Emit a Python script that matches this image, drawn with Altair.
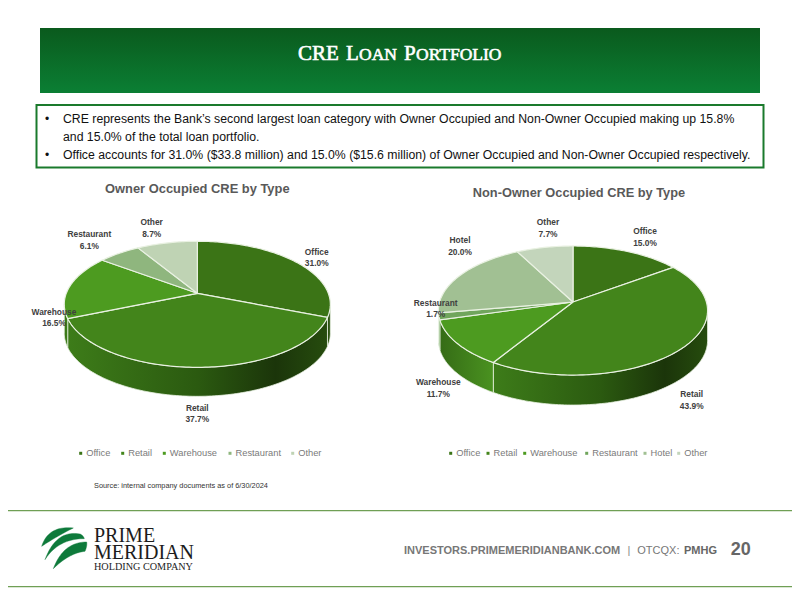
import math
import altair as alt
import pandas as pd

# ---------- chart values ----------
owner_types = ["Office", "Retail", "Warehouse", "Restaurant", "Other"]
owner_values = [31.0, 37.7, 16.5, 6.1, 8.7]
non_owner_types = ["Office", "Retail", "Warehouse", "Restaurant", "Hotel", "Other"]
non_owner_values = [15.0, 43.9, 11.7, 1.7, 20.0, 7.7]

owner_title = "Owner Occupied CRE by Type"
non_owner_title = "Non-Owner Occupied CRE by Type"
body_lines = [
    "CRE represents the Bank\u2019s second largest loan category with Owner Occupied and Non-Owner Occupied making up 15.8%",
    "and 15.0% of the total loan portfolio.",
    "Office accounts for 31.0% ($33.8 million) and 15.0% ($15.6 million) of Owner Occupied and Non-Owner Occupied respectively.",
]
source_note = "Source: internal company documents as of 6/30/2024"

# ---------- styles and layout ----------
SANS = "Liberation Sans"
SERIF = "Liberation Serif"
owner_colors = ["#3b7416", "#43851b", "#4d9b20", "#8fb67e", "#bfd3b4"]
non_owner_colors = ["#3b7416", "#43851b", "#4d9b20", "#70a55c", "#a1c093", "#c3d5bb"]

owner_geo = dict(cx=197.3, cy=293.3, s=131.0, a=61.1, k=0.1746, depth=29)
non_owner_geo = dict(cx=573.0, cy=302.0, s=133.4, a=63.4, k=0.132, depth=30)

owner_label_pos = [(316.7, 251.7), (197.3, 407.7), (54, 311.7), (89.3, 234.3), (151.7, 222.3)]
non_owner_label_pos = [(645, 231), (691.7, 394), (438.3, 382), (435.7, 302.7), (460, 240), (548, 222.3)]
owner_legend_x = [80.7, 122.7, 164.3, 230, 292.7]
non_owner_legend_x = [450.7, 488, 524.7, 586.7, 645, 678.7]

XS = alt.Scale(domain=[8, 792], range=[0, 784], nice=False, zero=False)
YS = alt.Scale(domain=[8, 592], range=[0, 584], nice=False, zero=False)
X = alt.X("x:Q", scale=XS, axis=None)
Y = alt.Y("y:Q", scale=YS, axis=None)
X2 = alt.X2("x2:Q")
Y2 = alt.Y2("y2:Q")


def project(g, theta, dz=0.0):
    sx, sy = math.sin(theta), -math.cos(theta)
    w = 1 - g["k"] * sy
    return g["cx"] + g["s"] * sx / w, g["cy"] + g["a"] * sy / w + dz


def arc(g, t0, t1, dz=0.0):
    n = max(2, int(abs(t1 - t0) / 0.02))
    return [project(g, t0 + (t1 - t0) * i / n, dz) for i in range(n + 1)]


def polygon(pts, **mark):
    df = pd.DataFrame(
        {"x": [p[0] for p in pts], "y": [p[1] for p in pts], "i": list(range(len(pts)))}
    )
    return alt.Chart(df).mark_line(**mark).encode(x=X, y=Y, order=alt.Order("i:Q"))


def text(x, y, s, size, color="#404040", weight="normal", align="left",
         baseline="middle", font=SANS, **extra):
    df = pd.DataFrame({"x": [x], "y": [y], "t": [s]})
    return alt.Chart(df).mark_text(
        fontSize=size, color=color, fontWeight=weight, align=align,
        baseline=baseline, font=font, **extra,
    ).encode(x=X, y=Y, text="t:N")


def rect(x, y, x2, y2, **mark):
    df = pd.DataFrame({"x": [x], "y": [y], "x2": [x2], "y2": [y2]})
    return alt.Chart(df).mark_rect(**mark).encode(x=X, y=Y, x2=X2, y2=Y2)


def gradient(stops):
    return alt.Gradient(
        gradient="linear", x1=0, x2=1, y1=0, y2=0,
        stops=[alt.GradientStop(offset=o, color=c) for o, c in stops],
    )


SEP = "#e9f1e2"
WALLS = {
    "Office": [(0, "#2f5a12"), (1, "#26490e")],
    "Retail": [(0, "#3d7c19"), (0.5, "#2b5a10"), (0.8, "#1b350a"), (1, "#264c0e")],
    "Warehouse": [(0, "#356c16"), (1, "#4a9220")],
}


def pie(values, names, colors, g):
    layers = []
    total = sum(values)
    edges = [0.0]
    for v in values:
        edges.append(edges[-1] + v / total * 2 * math.pi)
    right = math.acos(-g["k"])
    left = 2 * math.pi - right
    # side wall, only the front part is visible
    for i, name in enumerate(names):
        t0, t1 = max(edges[i], right), min(edges[i + 1], left)
        if t1 <= t0:
            continue
        stops = WALLS.get(name, [(0, colors[i]), (1, colors[i])])
        if i == 2 and len(names) == 5:
            stops = [(0, "#3a7518"), (1, "#3f801b")]
        pts = arc(g, t0, t1) + arc(g, t1, t0, g["depth"])
        pts.append(pts[0])
        layers.append(polygon(pts, fill=gradient(stops), stroke=SEP, strokeWidth=0.8))
    # top surface
    hub = (g["cx"], g["cy"])
    for i in range(len(values)):
        pts = [hub] + arc(g, edges[i], edges[i + 1]) + [hub]
        layers.append(polygon(pts, fill=colors[i], stroke=SEP, strokeWidth=1.2))
    return layers


def data_labels(values, names, positions):
    out = []
    for n, v, (x, y) in zip(names, values, positions):
        out.append(text(x, y, n, 8.4, "#404040", "bold", "center"))
        out.append(text(x, y + 11.5, f"{v:.1f}%", 8.4, "#404040", "bold", "center"))
    return out


def legend(names, colors, xs, y):
    out = []
    for n, c, x in zip(names, colors, xs):
        out.append(rect(x - 1.5, y - 1.5, x + 1.5, y + 1.5, fill=c))
        out.append(text(x + 5.5, y, n, 9.3, "#7a7a7a"))
    return out


layers = []

# header band
layers.append(rect(40, 28, 760, 93, fill=alt.Gradient(
    gradient="linear", x1=0, x2=0, y1=0, y2=1,
    stops=[alt.GradientStop(offset=0, color="#0a5a1d"),
           alt.GradientStop(offset=1, color="#0b7f34")])))
title_bits = [(298, "CRE", 21), (346, "L", 21), (359, "OAN", 17.5), (404, "P", 21), (416, "ORTFOLIO", 17.5)]
for x, s, size in title_bits:
    layers.append(text(x, 60, s, size, "#ffffff", baseline="alphabetic", font=SERIF,
                       stroke="#ffffff", strokeWidth=0.6))

# text box
layers.append(rect(36.5, 105, 763.5, 167.5, fill="#ffffff", stroke="#1a7a2c", strokeWidth=2))
for x, y, i in [(47, 119, 0), (None, 136.5, 1), (47, 155, 2)]:
    if x is not None:
        layers.append(text(x, y, "\u2022", 12, "#111111", align="center"))
    layers.append(text(63, y, body_lines[i], 12.27, "#111111"))

# pies
layers.append(text(197.3, 189.3, owner_title, 12.9, "#595959", "bold", "center"))
layers.append(text(579, 193.3, non_owner_title, 12.8, "#595959", "bold", "center"))
layers += pie(owner_values, owner_types, owner_colors, owner_geo)
layers += pie(non_owner_values, non_owner_types, non_owner_colors, non_owner_geo)
layers += data_labels(owner_values, owner_types, owner_label_pos)
layers += data_labels(non_owner_values, non_owner_types, non_owner_label_pos)
layers += legend(owner_types, owner_colors, owner_legend_x, 453.3)
layers += legend(non_owner_types, non_owner_colors, non_owner_legend_x, 453.3)
layers.append(text(94, 486, source_note, 7.35, "#333333"))

# footer
for y in (510.7, 586.7):
    layers.append(rect(8, y - 0.6, 792, y + 0.6, fill="#6f9f55"))


def q(p0, p1, p2, n=24):
    return [((1 - t) ** 2 * p0[0] + 2 * (1 - t) * t * p1[0] + t ** 2 * p2[0],
             (1 - t) ** 2 * p0[1] + 2 * (1 - t) * t * p1[1] + t ** 2 * p2[1])
            for t in (i / n for i in range(n + 1))]


def L(u, v):
    return (30 + u / 3, 518 + v / 3)


LOGO = "#0e7a3b"
bands = [
    q(L(35, 85), L(55, 22), L(130, 30)) + q(L(130, 30), L(80, 55), L(35, 85)),
    q(L(45, 125), L(78, 35), L(150, 48)) + q(L(150, 48), L(160, 52), L(163, 62)) + q(L(163, 62), L(85, 62), L(45, 125)),
    q(L(70, 152), L(100, 72), L(170, 72)) + q(L(170, 72), L(172, 84), L(165, 100)) + q(L(165, 100), L(118, 105), L(70, 152)),
]
for b in bands:
    layers.append(polygon(b + [b[0]], fill=LOGO, stroke=LOGO, strokeWidth=0.4))
layers.append(text(94, 541.7, "PRIME", 20, "#1c1c1c", baseline="alphabetic", font=SERIF))
layers.append(text(94, 559, "MERIDIAN", 20, "#1c1c1c", baseline="alphabetic", font=SERIF))
layers.append(text(94, 570, "HOLDING COMPANY", 10.2, "#1c1c1c", baseline="alphabetic", font=SERIF))

layers.append(text(404, 550.7, "INVESTORS.PRIMEMERIDIANBANK.COM", 11, "#777777", "bold"))
layers.append(text(629, 550.7, "|", 11, "#888888", align="center"))
layers.append(text(637.3, 550.7, "OTCQX:", 11, "#777777"))
layers.append(text(684, 550.7, "PMHG", 11, "#666666", "bold"))
layers.append(text(740.7, 550.3, "20", 18, "#666666", "bold", "center"))

chart = alt.layer(*layers).properties(
    width=784, height=584, padding=0,
    autosize=alt.AutoSizeParams(type="none"),
).configure_view(stroke=None)

chart.save("out.html", embed_options={"renderer": "svg", "actions": False})
